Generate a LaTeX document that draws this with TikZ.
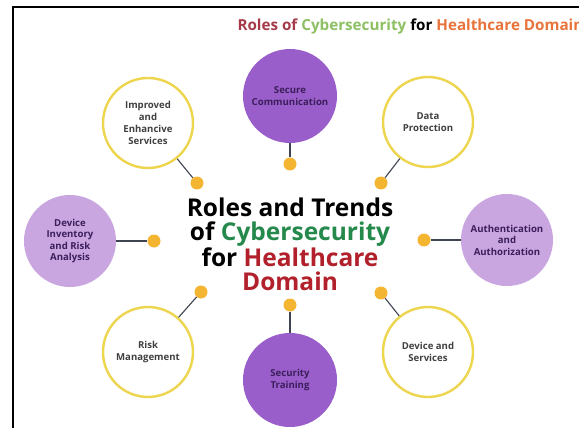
\documentclass[tikz,border=0pt]{standalone}
\usepackage{fontspec}
\setmainfont{Open Sans}
\usepackage{tikz}
\usetikzlibrary{positioning}

\definecolor{ringyellow}{HTML}{EDD64E}
\definecolor{dotorange}{HTML}{F4B533}
\definecolor{deeppurple}{HTML}{9A5ECB}
\definecolor{lavender}{HTML}{C9A6E0}
\definecolor{inkpurple}{HTML}{3B1E5B}
\definecolor{stemgray}{HTML}{3F4452}
\definecolor{cyberteal}{HTML}{25894C}
\definecolor{healthred}{HTML}{B1202B}
\definecolor{rolesred}{HTML}{A63A4A}
\definecolor{cyberlime}{HTML}{8DC063}
\definecolor{healthorange}{HTML}{E8743B}

\tikzset{
  ring/.style={circle,draw=ringyellow,line width=2.4pt,fill=white,minimum size=90pt,
    inner sep=0pt,align=center,font=\bfseries\fontsize{9.6}{12}\selectfont,text=black!75},
  disc/.style={circle,fill=deeppurple,minimum size=94pt,inner sep=0pt,align=center,
    font=\bfseries\fontsize{9.6}{11.5}\selectfont,text=inkpurple},
  softdisc/.style={disc,fill=lavender,minimum size=92pt},
  hub/.style={circle,fill=dotorange,minimum size=13pt,inner sep=0pt},
  stem/.style={stemgray,line width=1.1pt}
}

\begin{document}
\begin{tikzpicture}[x=1pt,y=-1pt]
  \useasboundingbox (0,0) rectangle (579,428);
  \clip (0,0) rectangle (579,428);
  \fill[white] (0,0) rectangle (579,428);

  % frame edges
  \draw[black,line width=1.4pt] (13,428) -- (13,7) -- (579,7);

  % heading, runs off the right edge
  \node[anchor=west,font=\bfseries\fontsize{15.2}{17}\selectfont] (heading) at (234,27)
    {\textcolor{rolesred}{Roles of} \textcolor{cyberlime}{Cybersecurity} for \textcolor{healthorange}{Healthcare Domain}};

  % centre title
  \node[align=center,font=\bfseries\fontsize{24.5}{24}\selectfont] (title) at (290,244)
    {Roles and Trends\\ of \textcolor{cyberteal}{Cybersecurity}\\ for \textcolor{healthred}{Healthcare}\\ \textcolor{healthred}{Domain}};

  % outer circles
  \node[disc] (secure) at (290,96) {Secure\\Communication};
  \node[ring] (improved) at (148,123) {Improved\\and\\Enhancive\\Services};
  \node[ring] (data) at (428,122) {Data\\Protection};
  \node[softdisc] (inventory) at (70,241) {Device\\Inventory\\and Risk\\Analysis};
  \node[softdisc] (auth) at (507,240) {Authentication\\and\\Authorization};
  \node[ring] (risk) at (148,352) {Risk\\Management};
  \node[disc] (training) at (290,380) {Security\\Training};
  \node[ring] (devices) at (428,352) {Device and\\Services};

  % hub dots round the title
  \node[hub] (hSecure) at (290,164) {};
  \node[hub] (hImproved) at (197,183) {};
  \node[hub] (hData) at (381,183) {};
  \node[hub] (hInventory) at (154,241) {};
  \node[hub] (hAuth) at (424,240) {};
  \node[hub] (hRisk) at (201,292) {};
  \node[hub] (hTraining) at (290,305) {};
  \node[hub] (hDevices) at (381,293) {};

  % stems
  \draw[stem] (hSecure) -- (secure);
  \draw[stem] (hImproved) -- (improved);
  \draw[stem] (hData) -- (data);
  \draw[stem] (hInventory) -- (inventory);
  \draw[stem] (hAuth) -- (auth);
  \draw[stem] (hRisk) -- (risk);
  \draw[stem] (hTraining) -- (training);
  \draw[stem] (hDevices) -- (devices);
\end{tikzpicture}
\end{document}
